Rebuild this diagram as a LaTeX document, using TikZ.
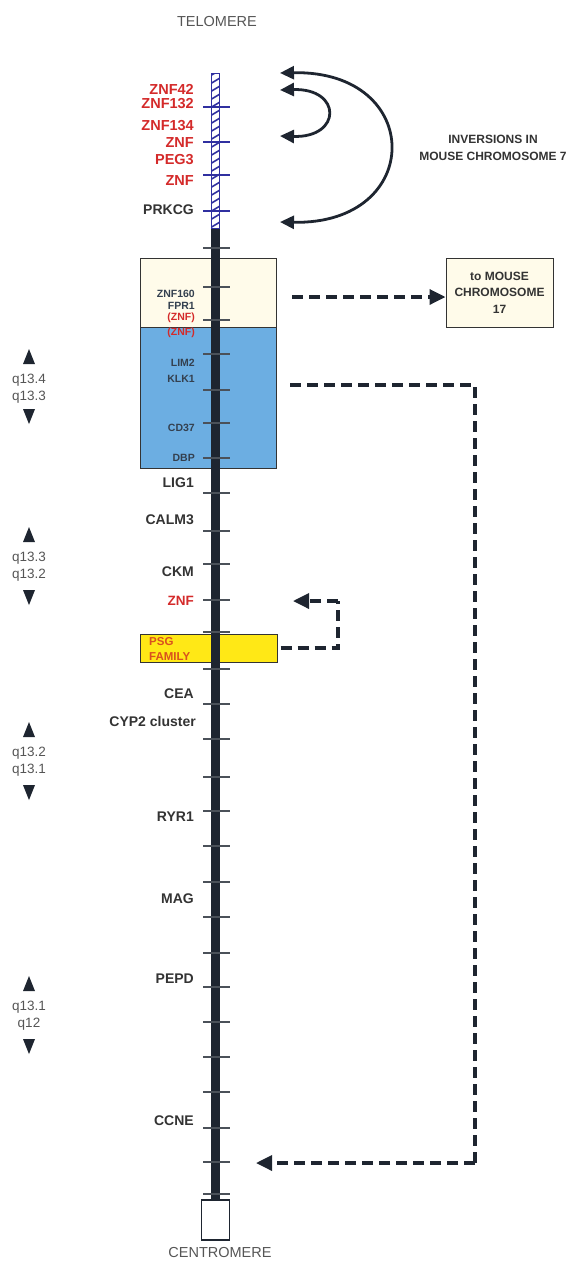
\documentclass[tikz,border=0pt]{standalone}
\usepackage{fontspec}
\setmainfont{Liberation Sans}
\usetikzlibrary{arrows.meta}
\definecolor{genered}{HTML}{D42A2A}
\definecolor{genegray}{HTML}{333333}
\definecolor{boxtext}{HTML}{34404F}
\definecolor{barcol}{HTML}{1E2530}
\definecolor{hatchblue}{HTML}{3030A0}
\definecolor{creamfill}{HTML}{FFFBEA}
\definecolor{bluefill}{HTML}{6CAEE2}
\definecolor{psgfill}{HTML}{FFE816}
\definecolor{psgtext}{HTML}{D9501E}
\definecolor{qgray}{HTML}{555555}
\begin{document}
\begin{tikzpicture}[x=1pt,y=-1pt,
  gene/.style={anchor=east,font=\fontsize{14}{15}\selectfont\bfseries,text=genegray,inner sep=0pt},
  redgene/.style={anchor=east,font=\fontsize{14.5}{15}\selectfont\bfseries,text=genered,inner sep=0pt},
  boxgene/.style={anchor=east,font=\fontsize{10.5}{11}\selectfont\bfseries,text=boxtext,inner sep=0pt},
  boxred/.style={anchor=east,font=\fontsize{10.5}{11}\selectfont\bfseries,text=genered,inner sep=0pt},
  qlab/.style={font=\fontsize{13.5}{14}\selectfont,text=qgray,inner sep=0pt},
  endlab/.style={font=\fontsize{14.5}{15}\selectfont,text=qgray,inner sep=0pt},
  smalltxt/.style={font=\fontsize{12}{16.5}\selectfont\bfseries,text=genegray,align=center,inner sep=0pt},
  tickbar/.style={draw=barcol!80,line width=1.3pt},
  tickblue/.style={draw=hatchblue,line width=1.3pt},
  dasharrow/.style={draw=barcol,line width=3.4pt,dash pattern=on 11pt off 6pt,-{Triangle[length=16pt,width=15pt]}},
  dashline/.style={draw=barcol,line width=3.4pt,dash pattern=on 11pt off 6pt},
  inv/.style={draw=barcol,line width=2.8pt,{Triangle[length=14pt,width=13pt]}-{Triangle[length=14pt,width=13pt]}},
]
\useasboundingbox (0,0) rectangle (571,1262);

% boxes
\node[draw=genegray,line width=1pt,fill=creamfill,minimum width=136pt,minimum height=69pt,inner sep=0pt] (cream) at (208,292.5) {};
\node[draw=genegray,line width=1pt,fill=bluefill,minimum width=136pt,minimum height=141pt,inner sep=0pt] (blue) at (208,397.5) {};
\node[draw=genegray,line width=1pt,fill=psgfill,minimum width=137pt,minimum height=28pt,inner sep=0pt] (psg) at (208.5,648) {};

% chromosome bar
\fill[barcol] (210.5,228) rectangle (219.5,1200);
\begin{scope}
\clip (211,73) rectangle (219,228);
\fill[white] (211,73) rectangle (219,228);
\foreach \yy in {70,78,...,236}{
  \draw[hatchblue,line width=1.6pt] (210,\yy+6) -- (220,\yy);
}
\end{scope}
\draw[hatchblue,line width=1pt] (211,73) rectangle (219,228);
\node[draw=barcol,line width=1.5pt,fill=white,minimum width=28pt,minimum height=40pt,inner sep=0pt] (centro) at (215.5,1220) {};

% ticks
\foreach \yy in {107,142,175,211}{\draw[tickblue] (203,\yy) -- (230,\yy);}
\foreach \yy in {248,287,320,354,390,423,458,493,531,564,600,632,669,704,739,777,811,846,882,917,953,987,1022,1057,1092,1128,1162,1194}{\draw[tickbar] (203,\yy) -- (230,\yy);}

% end labels
\node[endlab] (telo) at (217,22) {TELOMERE};
\node[endlab] (centrolab) at (220,1252) {CENTROMERE};

% red labels top
\node[redgene] (znf42) at (194,89) {ZNF42};
\node[redgene] (znf132) at (194,104) {ZNF132};
\node[redgene] (znf134) at (194,126) {ZNF134};
\node[redgene] (znfa) at (194,143) {ZNF};
\node[redgene] (peg3) at (194,160) {PEG3};
\node[redgene] (znfb) at (194,181) {ZNF};
\node[gene] (prkcg) at (194,210) {PRKCG};

% box labels
\node[boxgene] (znf160) at (195,294) {ZNF160};
\node[boxgene] (fpr1) at (195,306) {FPR1};
\node[boxred] (znfc) at (195,318) {(ZNF)};
\node[boxred] (znfd) at (195,333) {(ZNF)};
\node[boxgene] (lim2) at (195,363) {LIM2};
\node[boxgene] (klk1) at (195,379) {KLK1};
\node[boxgene] (cd37) at (195,428) {CD37};
\node[boxgene] (dbp) at (195,458) {DBP};

% lower genes
\node[gene] (lig1) at (194,483) {LIG1};
\node[gene] (calm3) at (194,520) {CALM3};
\node[gene] (ckm) at (194,572) {CKM};
\node[redgene,font=\fontsize{13.5}{14}\selectfont\bfseries] (znfe) at (194,601) {ZNF};
\node[anchor=west,font=\fontsize{11.5}{14.5}\selectfont\bfseries,text=psgtext,align=left,inner sep=0pt] (psgtxt) at (149,649) {PSG\\FAMILY};
\node[gene] (cea) at (194,694) {CEA};
\node[gene] (cyp2) at (196,721) {CYP2 cluster};
\node[gene] (ryr1) at (194,817) {RYR1};
\node[gene] (mag) at (194,899) {MAG};
\node[gene] (pepd) at (194,979) {PEPD};
\node[gene] (ccne) at (194,1121) {CCNE};

% q labels with triangles
\foreach \ya/\ta/\tb/\yb/\nm in {357/q13.4/q13.3/416/qa, 535/q13.3/q13.2/597/qb, 730/q13.2/q13.1/792/qc, 984/q13.1/q12/1046/qd}{
  \fill[barcol] (29,\ya-8) -- (35,\ya+7) -- (23,\ya+7) -- cycle;
  \node[qlab] (\nm a) at (29,\ya+23) {\ta};
  \node[qlab] (\nm b) at (29,\ya+40) {\tb};
  \fill[barcol] (29,\yb+8) -- (35,\yb-7) -- (23,\yb-7) -- cycle;
}

% inversion arcs
\coordinate (i1a) at (280,73);
\coordinate (i1b) at (280,222);
\coordinate (i2a) at (280,90);
\coordinate (i2b) at (280,136);
\draw[inv] (i1a) .. controls (425,70) and (425,225) .. (i1b);
\draw[inv] (i2a) .. controls (342,88) and (342,138) .. (i2b);
\node[smalltxt] (invtxt) at (493,148) {INVERSIONS IN\\MOUSE CHROMOSOME 7};

% mouse 17 box
\node[draw=genegray,line width=1pt,fill=creamfill,minimum width=107pt,minimum height=69pt,inner sep=0pt,smalltxt] (m17) at (499.5,292.5) {to MOUSE\\CHROMOSOME\\17};
\coordinate (d1s) at (292,297);
\draw[dasharrow] (d1s) -- (m17.west |- d1s);

% long dashed
\coordinate (d2s) at (290,385);
\coordinate (d2c1) at (475,385);
\coordinate (d2c2) at (475,1163);
\coordinate (d2e) at (256,1163);
\draw[dashline] (d2s) -- (d2c1) -- (d2c2);
\draw[dasharrow] (d2c2) -- (d2e);

% PSG dashed
\coordinate (d3c1) at (338,648);
\coordinate (d3c2) at (338,601);
\coordinate (d3e) at (293,601);
\draw[dashline] ([xshift=3pt]psg.east) -- (d3c1) -- (d3c2);
\draw[dasharrow] (d3c2) -- (d3e);
\end{tikzpicture}
\end{document}
